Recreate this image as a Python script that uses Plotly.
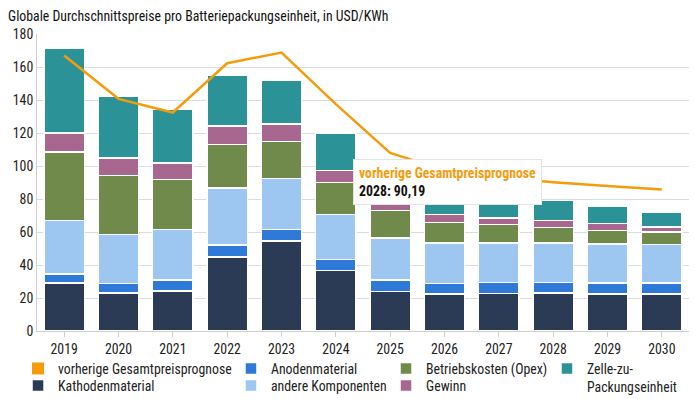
import plotly.graph_objects as go

years = ["2019", "2020", "2021", "2022", "2023", "2024", "2025", "2026", "2027", "2028", "2029", "2030"]
kathoden = [29.2, 23.1, 24.1, 44.9, 54.6, 36.8, 23.9, 22.3, 22.7, 22.9, 22.5, 22.3]
anoden = [5.4, 5.7, 6.7, 7.3, 6.8, 6.5, 6.9, 6.5, 6.8, 6.6, 6.7, 6.9]
andere = [32.3, 29.6, 30.6, 34.5, 30.9, 27.2, 25.6, 24.6, 23.9, 23.9, 23.6, 23.2]
opex = [41.6, 35.7, 30.3, 26.2, 22.6, 19.6, 16.7, 12.5, 11.1, 9.4, 8.2, 7.6]
gewinn = [11.5, 10.7, 10.1, 11.3, 10.5, 7.1, 5.5, 4.6, 4.0, 4.1, 4.1, 3.1]
zelle = [51.4, 37.7, 32.9, 30.9, 26.7, 22.8, 17.0, 14.0, 13.0, 12.3, 10.4, 9.1]
prognose = [167.0, 140.7, 132.4, 162.3, 168.8, 137.5, 107.9, 97.5, 93.0, 90.19, 87.9, 85.7]
y_ticks = [0, 20, 40, 60, 80, 100, 120, 140, 160, 180]

FONT = "Roboto Condensed, Liberation Sans Narrow, Arial Narrow, DejaVu Sans Condensed, Roboto, sans-serif"
FS = 13.8
ORANGE = "#f59c0c"

fig = go.Figure()

series = [
    ("Kathodenmaterial", kathoden, "#2c3b55"),
    ("Anodenmaterial", anoden, "#2f79d8"),
    ("andere Komponenten", andere, "#9dc6f1"),
    ("Betriebskosten (Opex)", opex, "#6f8a4b"),
    ("Gewinn", gewinn, "#a7678f"),
    ("Zelle-zu-<br>Packungseinheit", zelle, "#2b9397"),
]

row1, row2 = -0.0741, -0.1313
slots = {
    "vorherige": ("legend", -0.0291, row1),
    "Kathodenmaterial": ("legend2", -0.0291, row2),
    "Anodenmaterial": ("legend3", 0.2975, row1),
    "andere Komponenten": ("legend4", 0.2975, row2),
    "Betriebskosten (Opex)": ("legend5", 0.5353, row1),
    "Gewinn": ("legend6", 0.5353, row2),
    "Zelle-zu-<br>Packungseinheit": ("legend7", 0.7822, row1),
}

# legend proxy for the line (square swatch like reference); zero height, invisible in plot
fig.add_trace(go.Bar(x=[years[0]], y=[0], name="vorherige Gesamtpreisprognose",
                     marker=dict(color=ORANGE, line=dict(color=ORANGE, width=0)),
                     legend="legend", hoverinfo="skip"))

for name, vals, col in series:
    fig.add_trace(go.Bar(x=years, y=vals, name=name, legend=slots[name][0],
                         marker=dict(color=col, line=dict(color="white", width=1.5))))

fig.add_trace(go.Scatter(x=years, y=prognose, mode="lines", name="vorherige Gesamtpreisprognose",
                         line=dict(color=ORANGE, width=2.5), showlegend=False))

hover_i = 9
fig.add_annotation(
    x=hover_i, y=prognose[hover_i], xref="x", yref="y",
    text=(f"<b><span style='color:{ORANGE}'>vorherige Gesamtpreisprognose</span></b><br>"
          f"<b>{years[hover_i]}: {prognose[hover_i]:.2f}</b>").replace(".", ","),
    showarrow=False, xanchor="right", yanchor="middle", xshift=-11, align="left",
    bgcolor="white", bordercolor="#e4e4e4", borderwidth=1, borderpad=5,
    font=dict(family=FONT, size=FS, color="#111111"),
)

leg_layout = {}
for key, (lid, lx, ly) in slots.items():
    leg_layout[lid] = dict(orientation="v", x=lx, y=ly,
                           xanchor="left", yanchor="top",
                           valign="top", traceorder="normal",
                           font=dict(family=FONT, size=FS, color="#222222"),
                           bgcolor="rgba(0,0,0,0)", itemclick=False, itemdoubleclick=False)

fig.update_layout(
    width=700, height=399,
    margin=dict(l=29, r=19, t=26, b=76, autoexpand=False),
    paper_bgcolor="white", plot_bgcolor="white",
    barmode="stack", bargap=0.26,
    title=dict(text="Globale Durchschnittspreise pro Batteriepackungseinheit, in USD/KWh",
               x=0.0, xanchor="left", xref="container", y=0.98, yanchor="middle",
               font=dict(family=FONT, size=FS, color="#111111")),
    font=dict(family=FONT, size=FS, color="#222222"),
    xaxis=dict(type="category", range=[-0.5, len(years) - 0.5], showgrid=False,
               showline=True, linecolor="#cfcfcf", linewidth=1,
               ticks="outside", ticklen=5, tickcolor="#cfcfcf",
               tickfont=dict(family=FONT, size=FS, color="#222222")),
    yaxis=dict(range=[0, 180], tickvals=y_ticks, showgrid=True, gridcolor="#dcdcdc", gridwidth=1,
               showline=True, linecolor="#cfcfcf", linewidth=1, zeroline=False,
               tickfont=dict(family=FONT, size=FS, color="#222222")),
    showlegend=True,
    **leg_layout,
)

fig.write_html("out.html")
